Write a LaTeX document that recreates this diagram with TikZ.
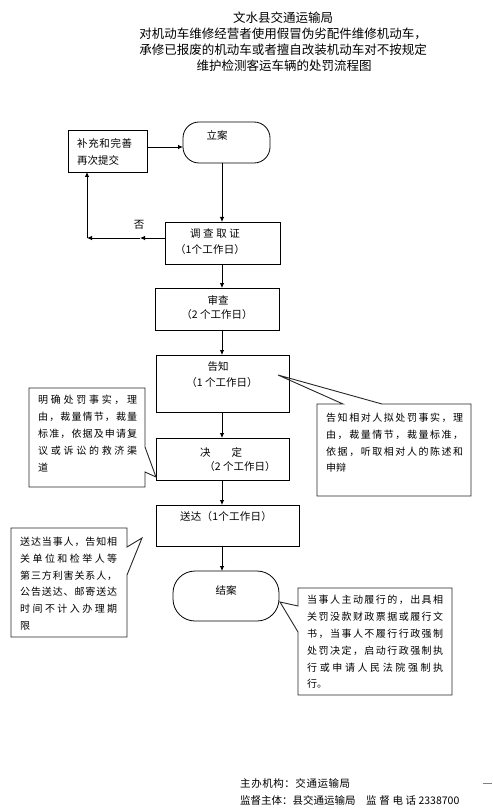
\documentclass[tikz,border=0pt]{standalone}
\usepackage{fontspec}
\setmainfont{Noto Sans CJK SC}
\usetikzlibrary{arrows.meta}
\def\spreadaux#1{\ifx#1\relax\else #1\hfill\expandafter\spreadaux\fi}
\newcommand\spreadln[2]{\hbox to #1{\spreadaux#2\relax\unskip}}
\begin{document}
\begin{tikzpicture}[x=1pt,y=-1pt,
  box/.style={draw,line width=0.8pt},
  rbox/.style={draw,line width=0.8pt,rounded corners=#1},
  call/.style={draw,line width=0.9pt,draw=black!85},
  arr/.style={line width=0.8pt,-{Latex[length=5pt,width=4.5pt]}},
  ln/.style={line width=0.8pt},
  tt/.style={font=\fontsize{12.5}{14}\selectfont,inner sep=0pt},
  bt/.style={font=\fontsize{10.5}{12}\selectfont,inner sep=0pt},
  ct/.style={font=\fontsize{10}{12}\selectfont,inner sep=0pt,anchor=west}]
\useasboundingbox (0,0) rectangle (492,810);
% title
\node[tt] (t1) at (283,18) {文水县交通运输局};
\node[tt] (t2) at (283,34) {对机动车维修经营者使用假冒伪劣配件维修机动车，};
\node[tt] (t3) at (283,50) {承修已报废的机动车或者擅自改装机动车对不按规定};
\node[tt] (t4) at (284,66) {维护检测客运车辆的处罚流程图};
% boxes
\draw[box] (68,130) rectangle (147,172);
\coordinate (bcR) at (147,147);
\coordinate (bcB) at (87,172);
\node[bt,anchor=west] (bc1) at (77,143) {\spreadln{55pt}{补充和完善}};
\node[bt,anchor=west] (bc2) at (77,160) {\spreadln{37pt}{再次提交}};
\draw[rbox=16pt] (183,122) rectangle (270,163);
\coordinate (laL) at (183,147);
\coordinate (laB) at (222,163);
\node[bt] (la) at (217,135) {立案};
\draw[box] (165,222) rectangle (280,264);
\coordinate (dcT) at (222,222);
\coordinate (dcB) at (222,264);
\coordinate (dcL) at (165,238);
\node[bt] (dc1) at (215,234) {\spreadln{50pt}{调查取证}};
\node[bt] (dc2) at (210,250) {\spreadln{70pt}{（1个工作日）}};
\draw[box] (155,288) rectangle (279,330);
\coordinate (scT) at (222,288);
\coordinate (scB) at (222,330);
\node[bt] (sc1) at (218,300) {审查};
\node[bt] (sc2) at (217,315) {（2 个工作日）};
\draw[box] (156,355) rectangle (289,412);
\coordinate (gzT) at (222,355);
\coordinate (gzB) at (222,412);
\node[bt] (gz1) at (218,367) {告知};
\node[bt] (gz2) at (222,383) {（1 个工作日）};
\draw[box] (156,438) rectangle (289,480);
\coordinate (jdT) at (222,438);
\coordinate (jdB) at (222,480);
\node[bt] (jd1) at (221,452) {决　　定};
\node[bt] (jd2) at (240,467) {（2 个工作日）};
\draw[box] (156,505) rectangle (299,546);
\coordinate (sdT) at (222,505);
\coordinate (sdB) at (222,546);
\node[bt] (sd) at (226,517) {\spreadln{92pt}{送达（1个工作日）}};
\draw[rbox=22pt] (173,571) rectangle (279,621);
\coordinate (jaT) at (222,571);
\node[bt] (ja) at (226,590) {结案};
% connectors
\draw[arr] (bcR) -- (laL);
\draw[arr] (laB) -- (dcT);
\coordinate (m1) at (140,238);
\coordinate (m2) at (87,238);
\draw[arr] (dcL) -- (m1);
\draw[arr] (m1) -- (m2);
\draw[arr] (m2) -- (bcB);
\node[bt] (fou) at (139,225) {否};
\draw[arr] (dcB) -- (scT);
\draw[arr] (scB) -- (gzT);
\draw[arr] (gzB) -- (jdT);
\draw[arr] (jdB) -- (sdT);
\draw[arr] (sdB) -- (jaT);
% callout 1 (left)
\draw[call] (29,388) -- (145,388) -- (145,447) -- (156,477) -- (145,472) -- (145,487) -- (29,487) -- cycle;
\node[ct] (c1a) at (38,400) {\spreadln{99pt}{明确处罚事实，理}};
\node[ct] (c1b) at (38,417) {\spreadln{99pt}{由，裁量情节，裁量}};
\node[ct] (c1c) at (38,434) {\spreadln{99pt}{标准，依据及申请复}};
\node[ct] (c1d) at (38,451) {\spreadln{99pt}{议或诉讼的救济渠}};
\node[ct] (c1e) at (38,468) {道};
% callout 2 (right)
\draw[call] (317,404) -- (343,404) -- (278,375) -- (382,404) -- (471,404) -- (471,496) -- (317,496) -- cycle;
\node[ct] (c2a) at (326,418) {\spreadln{137pt}{告知相对人拟处罚事实，理}};
\node[ct] (c2b) at (326,435) {\spreadln{137pt}{由，裁量情节，裁量标准，}};
\node[ct] (c2c) at (326,452) {\spreadln{137pt}{依据，听取相对人的陈述和}};
\node[ct] (c2d) at (326,468) {申辩};
% callout 3 (left lower)
\draw[call] (11,528) -- (127,528) -- (127,547) -- (142,538) -- (127,575) -- (127,637) -- (11,637) -- cycle;
\node[ct] (c3a) at (20,542) {\spreadln{97pt}{送达当事人，告知相}};
\node[ct] (c3b) at (20,559) {\spreadln{97pt}{关单位和检举人等}};
\node[ct] (c3c) at (20,576) {\spreadln{97pt}{第三方利害关系人，}};
\node[ct] (c3d) at (20,592) {\spreadln{97pt}{公告送达、邮寄送达}};
\node[ct] (c3e) at (20,609) {\spreadln{97pt}{时间不计入办理期}};
\node[ct] (c3f) at (20,626) {限};
% callout 4 (right lower)
\draw[call] (298,588) -- (452,588) -- (452,695) -- (298,695) -- (298,632) -- (280,602) -- (298,606) -- cycle;
\node[ct] (c4a) at (307,600) {\spreadln{136pt}{当事人主动履行的，出具相}};
\node[ct] (c4b) at (307,617) {\spreadln{136pt}{关罚没款财政票据或履行文}};
\node[ct] (c4c) at (307,634) {\spreadln{136pt}{书，当事人不履行行政强制}};
\node[ct] (c4d) at (307,651) {\spreadln{136pt}{处罚决定，启动行政强制执}};
\node[ct] (c4e) at (307,668) {\spreadln{136pt}{行或申请人民法院强制执}};
\node[ct] (c4f) at (307,684) {行。};
% footer
\node[bt,anchor=west] (f1) at (240,783) {\spreadln{110pt}{主办机构：交通运输局}};
\node[bt,anchor=west] (f2) at (240,800) {\spreadln{113pt}{监督主体：县交通运输局}\hspace{13pt}\spreadln{50pt}{监督电话} 2338700};
\draw[gray,line width=0.6pt] (483,783) -- (492,783);
\end{tikzpicture}
\end{document}
